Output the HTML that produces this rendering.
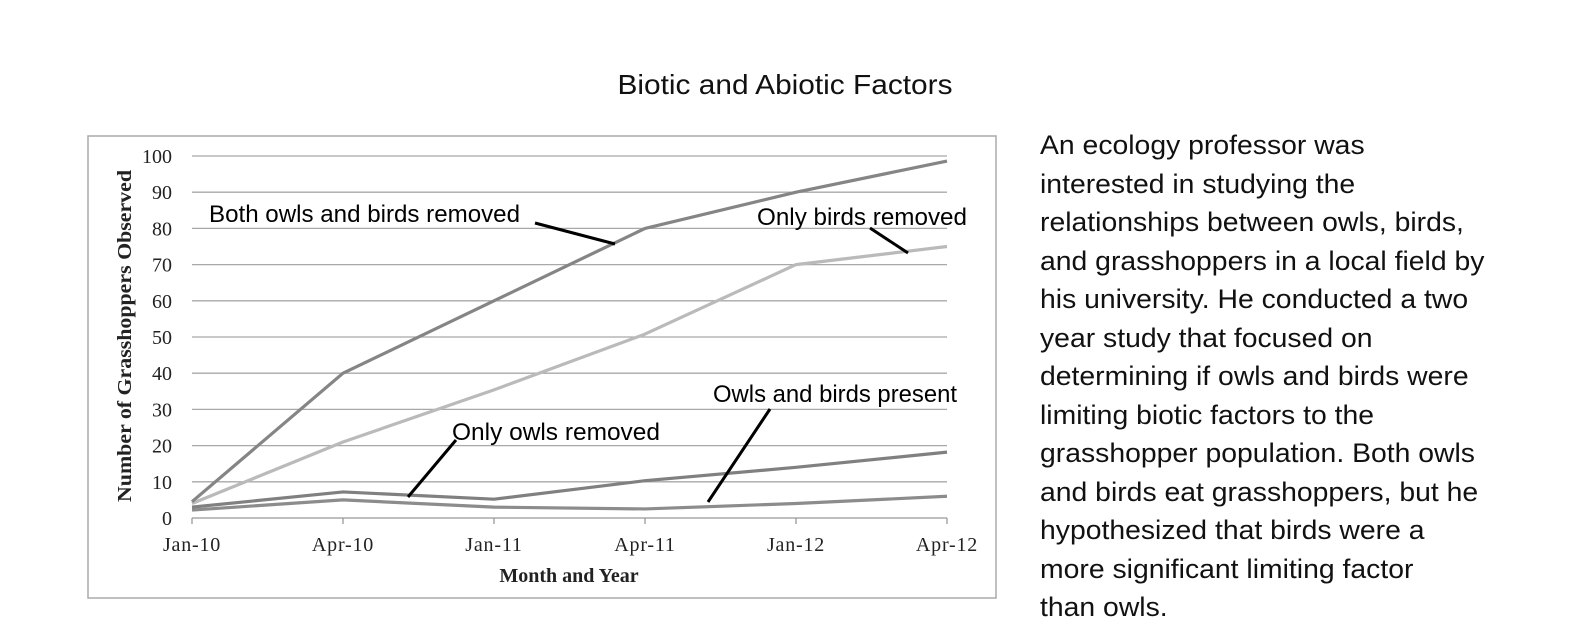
<!DOCTYPE html>
<html><head><meta charset="utf-8"><style>
html,body{margin:0;padding:0;background:#fff;}
#wrap{position:relative;width:1596px;height:634px;overflow:hidden;}
#desc{position:absolute;left:1040px;top:126px;font-family:"Liberation Sans",sans-serif;font-size:27px;line-height:38.5px;color:#111;margin:0;white-space:nowrap;transform:scaleX(1.05);transform-origin:0 0;}
</style></head><body>
<div id="wrap">
<svg id="chart" width="1596" height="634" style="position:absolute;left:0;top:0">
<text x="785" y="94" text-anchor="middle" font-family="Liberation Sans, sans-serif" font-size="28" textLength="335" lengthAdjust="spacingAndGlyphs" fill="#111">Biotic and Abiotic Factors</text>
<rect x="88" y="136" width="908" height="462" fill="none" stroke="#aaa" stroke-width="1.5"/>
<g id="grid"></g><g id="series"></g><g id="labels"></g>
<text x="569" y="582" text-anchor="middle" font-family="Liberation Serif, serif" font-weight="bold" font-size="20" fill="#222">Month and Year</text>
<text transform="translate(131,336) rotate(-90)" text-anchor="middle" font-family="Liberation Serif, serif" font-weight="bold" font-size="20" textLength="332" lengthAdjust="spacingAndGlyphs" fill="#222">Number of Grasshoppers  Observed</text>
<g font-family="Liberation Sans, sans-serif" font-size="24" fill="#000">
<text x="209" y="222" textLength="311" lengthAdjust="spacingAndGlyphs">Both owls and birds removed</text>
<text x="757" y="225" textLength="210" lengthAdjust="spacingAndGlyphs">Only birds removed</text>
<text x="713" y="402" textLength="244" lengthAdjust="spacingAndGlyphs">Owls and birds present</text>
<text x="452" y="440" textLength="208" lengthAdjust="spacingAndGlyphs">Only owls removed</text>
</g>
<g stroke="#000" stroke-width="3">
<line x1="535" y1="223" x2="615" y2="244"/>
<line x1="870" y1="228" x2="908" y2="253"/>
<line x1="770" y1="409" x2="708" y2="502"/>
<line x1="456" y1="440" x2="408" y2="497"/>
</g>
</svg>
<p id="desc">An ecology professor was<br>interested in studying the<br>relationships between owls, birds,<br>and grasshoppers in a local field by<br>his university. He conducted a two<br>year study that focused on<br>determining if owls and birds were<br>limiting biotic factors to the<br>grasshopper population. Both owls<br>and birds eat grasshoppers, but he<br>hypothesized that birds were a<br>more significant limiting factor<br>than owls.</p>
</div>
<script>
const categories = ["Jan-10","Apr-10","Jan-11","Apr-11","Jan-12","Apr-12"];
const yTicks = [0,10,20,30,40,50,60,70,80,90,100];
const bothRemoved = [4.5,40,60,80,90,98.6];
const birdsRemoved = [4,21,35.4,50.8,70,75];
const owlsRemoved = [3,7.2,5.2,10.3,14,18.2];
const present = [2.2,5,3,2.5,4,6];
const NS="http://www.w3.org/2000/svg";
const X0=192,X1=947,Y0=518,Y1=156;
function xs(i){return X0+(X1-X0)*i/(categories.length-1);}
function ys(v){return Y0-(Y0-Y1)*v/100;}
function mk(t,a,p){const e=document.createElementNS(NS,t);for(const k in a)e.setAttribute(k,a[k]);p.appendChild(e);return e;}
const grid=document.getElementById('grid'),labels=document.getElementById('labels'),ser=document.getElementById('series');
yTicks.forEach(v=>{
  const l=mk('line',{x1:X0,x2:X1,y1:ys(v),y2:ys(v),stroke:v===0?'#999':'#a8a8a8','stroke-width':1.3},grid);
  
  
  const t=mk('text',{x:172,y:ys(v)+7,'text-anchor':'end','font-family':'Liberation Serif, serif','font-size':20,fill:'#222'},labels);
  t.textContent=v;
  
  
});
categories.forEach((c,i)=>{
  const tk=mk('line',{x1:xs(i),x2:xs(i),y1:Y0,y2:Y0+6,stroke:'#999','stroke-width':1.3},grid);
  
  
  const t=mk('text',{x:xs(i),y:551,'text-anchor':'middle','font-family':'Liberation Serif, serif','font-size':20,'letter-spacing':0.8,fill:'#222'},labels);
  t.textContent=c;
  
  
});
const L=[[present,'#8c8c8c','series-owls-and-birds-present'],[owlsRemoved,'#808080','series-only-owls-removed'],[birdsRemoved,'#bababa','series-only-birds-removed'],[bothRemoved,'#858585','series-both-removed']];
L.forEach(([d,c,n])=>{
  const p=mk('polyline',{points:d.map((v,i)=>xs(i)+','+ys(v)).join(' '),fill:'none',stroke:c,'stroke-width':3.2,'stroke-linejoin':'round'},ser);
  
  
});
</script>
</body></html>
